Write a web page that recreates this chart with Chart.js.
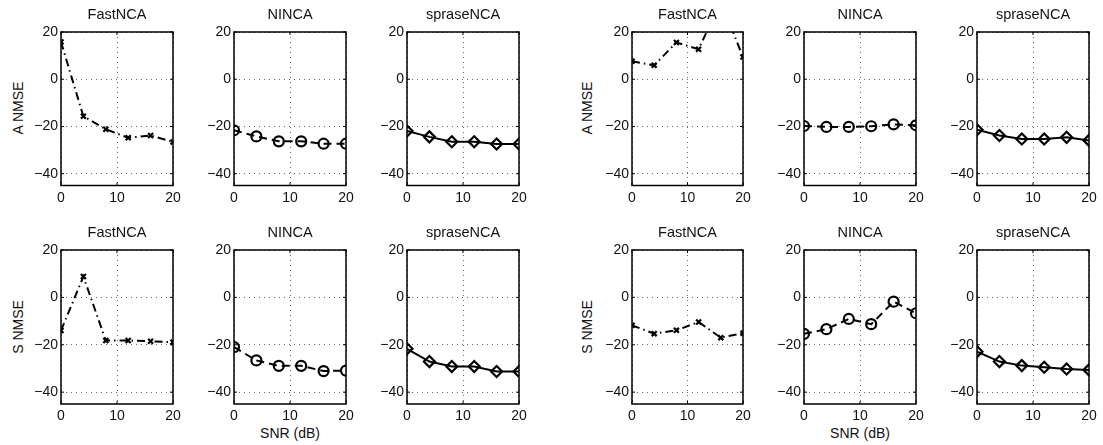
<!DOCTYPE html>
<html>
<head>
<meta charset="utf-8">
<script src="https://cdn.jsdelivr.net/npm/chart.js@4/dist/chart.umd.min.js"></script>
<style>
  body { margin: 0; background: #fff; width: 1103px; height: 445px; position: relative; overflow: hidden;
         font-family: "Liberation Sans", Arial, sans-serif; color: #111; }
  .cell { position: absolute; }
  .lbl { position: absolute; font-size: 14px; white-space: nowrap; }
  .rot { transform: translate(-50%, -50%) rotate(-90deg); }
  .ctr { transform: translate(-50%, -50%); }
</style>
</head>
<body>
<div class="lbl rot" style="left:18px;top:108px">A NMSE</div>
<div class="lbl rot" style="left:587px;top:108px">A NMSE</div>
<div class="lbl rot" style="left:18px;top:327px">S NMSE</div>
<div class="lbl rot" style="left:587px;top:327px">S NMSE</div>
<div class="lbl ctr" style="left:290px;top:433px">SNR (dB)</div>
<div class="lbl ctr" style="left:860px;top:433px">SNR (dB)</div>
<script>
// SNR values (x axis)
var snr = [0, 4, 8, 12, 16, 20];
var xTicks = [0, 10, 20];
var yTicks = [-40, -20, 0, 20];
var titles = ['FastNCA', 'NINCA', 'spraseNCA'];

// left group
var aFast1 = [15.8, -15.7, -21.2, -24.8, -23.8, -26.6];
var aNinca1 = [-21.6, -24.2, -26.3, -26.3, -27.3, -27.3];
var aSparse1 = [-21.9, -24.4, -26.5, -26.5, -27.4, -27.4];
var sFast1 = [-14.0, 8.8, -18.2, -18.2, -18.5, -18.9];
var sNinca1 = [-21.0, -26.6, -28.9, -28.9, -31.1, -30.9];
var sSparse1 = [-21.7, -27.1, -29.2, -29.2, -31.3, -31.3];

// right group
var aFast2 = [7.6, 5.9, 15.6, 12.7, 33, 9.4];
var aNinca2 = [-19.8, -20.2, -20.2, -19.9, -19.1, -19.5];
var aSparse2 = [-21.4, -23.8, -25.3, -25.3, -24.6, -25.9];
var sFast2 = [-11.8, -15.3, -13.9, -10.4, -17.0, -15.1];
var sNinca2 = [-15.4, -13.4, -9.1, -11.3, -1.8, -6.7];
var sSparse2 = [-22.9, -27.1, -28.8, -29.5, -30.2, -30.6];

var FONT = '"Liberation Sans", Arial, sans-serif';
var boxLeft = [61, 234, 407, 632, 804, 977];
var boxWidth = [112, 112, 112, 111, 112, 112];
var boxTop = [31.5, 250];
var boxHeight = [153.5, 154];

// line style per method
var styles = [
    {dash: [8, 4, 1.5, 4], point: 'crossRot', r: 3.5},
    {dash: [8, 5], point: 'circle', r: 5},
    {dash: [], point: 'rectRot', r: 5.5}
];

var rows = [
    [aFast1, aNinca1, aSparse1, aFast2, aNinca2, aSparse2],
    [sFast1, sNinca1, sSparse1, sFast2, sNinca2, sSparse2]
];

var boxPlugin = {
    id: 'box',
    afterDraw: function(chart, args, opts){
        var a = chart.chartArea, ctx = chart.ctx;
        ctx.save();
        ctx.strokeStyle = '#000';
        ctx.lineWidth = 1.5;
        ctx.strokeRect(a.left, a.top, a.right - a.left, a.bottom - a.top);
        // small inward tick marks
        ctx.lineWidth = 1;
        var xs = chart.scales.x, ys = chart.scales.y;
        xTicks.forEach(function(v){
            var px = xs.getPixelForValue(v);
            ctx.beginPath();
            ctx.moveTo(px, a.bottom); ctx.lineTo(px, a.bottom - 3);
            ctx.moveTo(px, a.top); ctx.lineTo(px, a.top + 3);
            ctx.stroke();
        });
        yTicks.forEach(function(v){
            var py = ys.getPixelForValue(v);
            ctx.beginPath();
            ctx.moveTo(a.left, py); ctx.lineTo(a.left + 3, py);
            ctx.moveTo(a.right, py); ctx.lineTo(a.right - 3, py);
            ctx.stroke();
        });
        // subplot title centred on the axes box
        ctx.fillStyle = '#111';
        ctx.font = '14.5px ' + FONT;
        ctx.textAlign = 'center';
        ctx.textBaseline = 'middle';
        ctx.fillText(opts.text, (a.left + a.right) / 2, a.top - 17);
        ctx.restore();
    }
};

function fmt(v){
    return v < 0 ? '\u2212' + Math.abs(v) : String(v);
}

for (var r = 0; r < 2; r++){
    for (var c = 0; c < 6; c++){
        var div = document.createElement('div');
        div.className = 'cell';
        var padL = 40, padT = 28, padR = 14, padB = 24;
        div.style.left = (boxLeft[c] - padL) + 'px';
        div.style.top = (boxTop[r] - padT) + 'px';
        div.style.width = (boxWidth[c] + padL + padR) + 'px';
        div.style.height = (boxHeight[r] + padT + padB) + 'px';
        var cv = document.createElement('canvas');
        div.appendChild(cv);
        document.body.appendChild(div);

        var st = styles[c % 3];
        var vals = rows[r][c];
        new Chart(cv.getContext('2d'), {
            type: 'line',
            data: {
                datasets: [{
                    data: snr.map(function(x, i){ return {x: x, y: vals[i]}; }),
                    borderColor: '#000',
                    borderWidth: 2,
                    borderDash: st.dash,
                    pointStyle: st.point,
                    pointRadius: st.r,
                    pointBorderWidth: 2.2,
                    pointBorderColor: '#000',
                    pointBackgroundColor: 'rgba(0,0,0,0)',
                    tension: 0
                }]
            },
            options: {
                responsive: true,
                maintainAspectRatio: false,
                animation: false,
                layout: {autoPadding: false, padding: {top: padT, right: padR, bottom: 0, left: 0}},
                plugins: {
                    legend: {display: false},
                    tooltip: {enabled: false},
                    title: {display: false},
                    box: {text: titles[c % 3]}
                },
                scales: {
                    x: {
                        type: 'linear', min: 0, max: 20,
                        afterFit: function(s){ s.height = 24; },
                        afterBuildTicks: function(s){ s.ticks = xTicks.map(function(v){ return {value: v}; }); },
                        grid: {color: 'rgba(0,0,0,0.6)', drawTicks: false, lineWidth: 1},
                        border: {display: false, dash: [1, 4]},
                        ticks: {color: '#111', padding: 4, maxRotation: 0, font: {family: FONT, size: 14},
                                callback: function(v){ return fmt(v); }}
                    },
                    y: {
                        type: 'linear', min: -45, max: 20,
                        afterFit: function(s){ s.width = 40; },
                        afterBuildTicks: function(s){ s.ticks = yTicks.map(function(v){ return {value: v}; }); },
                        grid: {color: 'rgba(0,0,0,0.6)', drawTicks: false, lineWidth: 1},
                        border: {display: false, dash: [1, 4]},
                        ticks: {color: '#111', padding: 3, font: {family: FONT, size: 14},
                                callback: function(v){ return fmt(v); }}
                    }
                }
            },
            plugins: [boxPlugin]
        });
    }
}
</script>
</body>
</html>
